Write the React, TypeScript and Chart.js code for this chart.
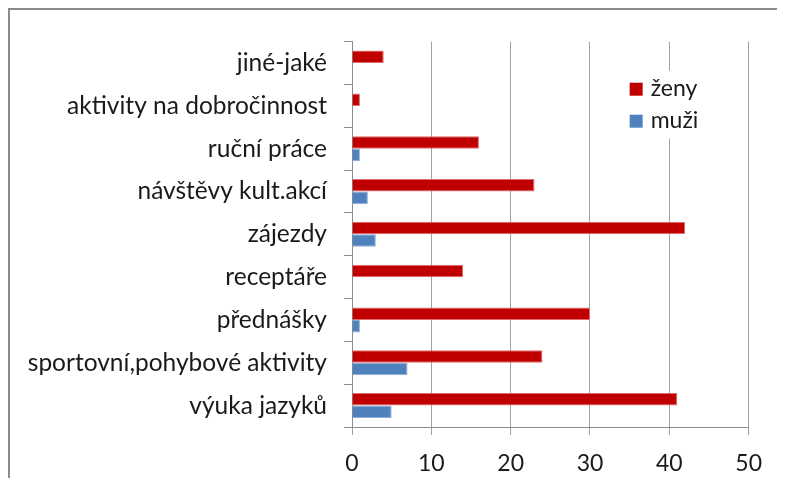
import React, { useEffect, useRef } from "react";
import { Chart, registerables } from "chart.js";

Chart.register(...registerables);

const categories = [
  "jiné-jaké",
  "aktivity na dobročinnost",
  "ruční práce",
  "návštěvy kult.akcí",
  "zájezdy",
  "receptáře",
  "přednášky",
  "sportovní,pohybové aktivity",
  "výuka jazyků",
];
const zenyValues = [4, 1, 16, 23, 42, 14, 30, 24, 41];
const muziValues = [0, 0, 1, 2, 3, 0, 1, 7, 5];
const seriesNames = ["ženy", "muži"];
const xTicks = [0, 10, 20, 30, 40, 50];

const RED = "#C00000";
const BLUE = "#4F81BD";
const FONT = "Lato, 'Open Sans', sans-serif";

const legendPlugin = {
  id: "customLegend",
  afterDatasetsDraw(chart: any) {
    const ctx = chart.ctx;
    const area = chart.chartArea;
    const x0 = area.right - 119;
    const y0 = area.top + 29;
    ctx.save();
    ctx.fillStyle = "#ffffff";
    ctx.fillRect(x0 - 10, y0, 100, 68);
    chart.data.datasets.forEach((ds: any, i: number) => {
      const y = y0 + 12 + i * 32;
      ctx.fillStyle = ds.backgroundColor;
      ctx.fillRect(x0, y, 13, 13);
      ctx.fillStyle = "#1a1a1a";
      ctx.font = "23px " + FONT;
      ctx.textBaseline = "middle";
      ctx.textAlign = "left";
      ctx.fillText(ds.label, x0 + 21, y + 6);
    });
    ctx.restore();
  },
};

export default function App() {
  const ref = useRef<HTMLCanvasElement | null>(null);
  useEffect(() => {
    if (!ref.current) return;
    const chart = new Chart(ref.current, {
      type: "bar",
      data: {
        labels: categories,
        datasets: [
          {
            label: seriesNames[0],
            data: zenyValues,
            backgroundColor: RED,
            borderColor: "#dd6b6b",
            borderWidth: 1,
            barPercentage: 1,
            categoryPercentage: 0.585,
          },
          {
            label: seriesNames[1],
            data: muziValues,
            backgroundColor: BLUE,
            borderColor: "#8eaed8",
            borderWidth: 1,
            barPercentage: 1,
            categoryPercentage: 0.585,
          },
        ],
      },
      options: {
        indexAxis: "y",
        animation: false,
        responsive: false,
        maintainAspectRatio: false,
        layout: { padding: { top: 27, right: 27, left: 0, bottom: 0 } },
        plugins: {
          legend: { display: false },
          tooltip: { enabled: false },
        },
        scales: {
          x: {
            min: 0,
            max: 50,
            afterBuildTicks: (scale: any) => {
              scale.ticks = xTicks.map((v) => ({ value: v }));
            },
            afterFit: (scale: any) => {
              scale.height = 51;
            },
            grid: {
              color: "#a0a0a0",
              lineWidth: 1,
              tickLength: 8,
              drawTicks: true,
            },
            border: { display: true, color: "#8c8c8c", width: 1 },
            ticks: {
              color: "#1a1a1a",
              font: { family: FONT, size: 23 },
              padding: 15,
              maxRotation: 0,
            },
          },
          y: {
            afterFit: (scale: any) => {
              scale.width = 342;
            },
            grid: {
              drawOnChartArea: false,
              drawTicks: true,
              tickLength: 8,
              offset: true,
              color: "#8c8c8c",
            },
            border: { display: true, color: "#8c8c8c", width: 1 },
            ticks: {
              color: "#1a1a1a",
              font: { family: FONT, size: 24.5 },
              padding: 17,
              autoSkip: false,
            },
          },
        },
      },
      plugins: [legendPlugin],
    });
    return () => chart.destroy();
  }, []);
  return (
    <div
      style={{
        width: 767,
        height: 468,
        borderTop: "2px solid #8a8a8a",
        borderLeft: "2px solid #8a8a8a",
        background: "#ffffff",
      }}
    >
      <canvas ref={ref} width={767} height={468} style={{ display: "block" }} />
    </div>
  );
}
